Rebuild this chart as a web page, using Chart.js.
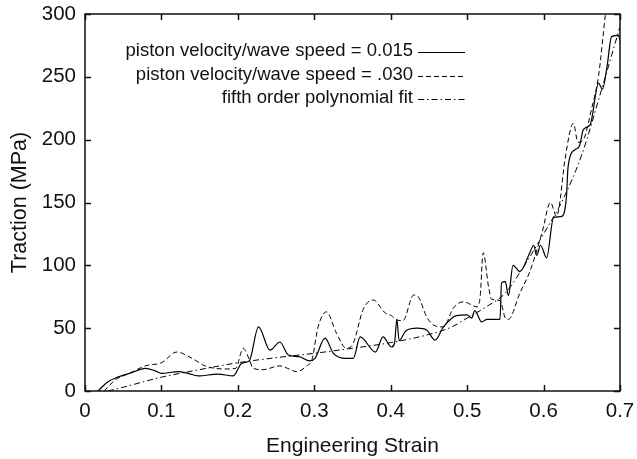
<!DOCTYPE html>
<html>
<head>
<meta charset="utf-8">
<script src="https://cdn.jsdelivr.net/npm/chart.js@4.4.1/dist/chart.umd.min.js"></script>
<style>
  body { margin: 0; background: #fff; }
  #chart { display: block; }
</style>
</head>
<body>
<canvas id="chart" width="637" height="459"></canvas>
<script>
// axis ticks
const xTicks = [0, 0.1, 0.2, 0.3, 0.4, 0.5, 0.6, 0.7];
const yTicks = [0, 50, 100, 150, 200, 250, 300];

// piston velocity/wave speed = 0.015 (solid)
const strainA = [0.017, 0.03, 0.043, 0.061, 0.079, 0.092, 0.1, 0.122, 0.135, 0.148, 0.174, 0.194, 0.205, 0.215, 0.227, 0.242, 0.255, 0.266, 0.28, 0.294, 0.301, 0.314, 0.325, 0.342, 0.351, 0.36, 0.38, 0.39, 0.401, 0.405, 0.408, 0.411, 0.42, 0.435, 0.447, 0.458, 0.469, 0.486, 0.5, 0.506, 0.51, 0.519, 0.526, 0.543, 0.545, 0.55, 0.554, 0.56, 0.569, 0.582, 0.587, 0.591, 0.596, 0.604, 0.613, 0.624, 0.63, 0.632, 0.641, 0.647, 0.652, 0.661, 0.672, 0.677, 0.683, 0.689, 0.698, 0.7];
const tractionA = [0, 7.4, 11, 14.6, 18, 16, 14, 15.4, 14, 12, 13.5, 12, 22, 24, 51, 32.6, 39, 28.6, 27.3, 24, 26, 42, 30, 26, 26, 43, 31, 43, 35, 38, 57, 40, 48, 50, 48.5, 40.5, 51, 60, 60.5, 58, 64, 55, 57, 57, 86, 87, 76, 100, 95, 110, 116, 108, 116, 106, 138, 139, 155, 178, 192, 195, 208, 212, 245, 240, 258, 282, 283, 279];

// piston velocity/wave speed = .030 (dashed)
const strainB = [0.025, 0.04, 0.058, 0.079, 0.1, 0.12, 0.14, 0.157, 0.183, 0.197, 0.207, 0.215, 0.22, 0.233, 0.255, 0.265, 0.277, 0.29, 0.297, 0.305, 0.316, 0.329, 0.342, 0.351, 0.364, 0.377, 0.393, 0.401, 0.408, 0.416, 0.43, 0.436, 0.447, 0.456, 0.469, 0.482, 0.495, 0.513, 0.517, 0.521, 0.528, 0.532, 0.543, 0.55, 0.554, 0.569, 0.582, 0.598, 0.609, 0.617, 0.62, 0.628, 0.639, 0.645, 0.652, 0.663, 0.672, 0.681, 0.69];
const tractionB = [0, 9, 14, 20, 22.5, 31, 26, 20, 17.5, 18, 34, 25, 18, 17, 20, 18, 15.4, 20, 25, 51, 63, 46, 34, 38, 65, 72.4, 62, 60, 56.5, 56, 76.4, 75, 59, 52.5, 51, 66, 71, 67, 75, 110, 83, 73, 72, 58, 57, 78, 95, 126, 150, 139, 145, 184, 213, 198, 200, 225, 251, 300, 340];

// fifth order polynomial fit (dash-dot)
const strainFit = [0.03, 0.05, 0.1, 0.15, 0.2, 0.25, 0.3, 0.35, 0.4, 0.45, 0.48, 0.5, 0.525, 0.55, 0.575, 0.6, 0.625, 0.65, 0.675, 0.7];
const tractionFit = [0, 3, 11, 17, 22.5, 26.5, 30, 34, 38.5, 45, 51, 58, 67, 78, 100, 125, 152, 188, 238, 290];

const labels = [
  'piston velocity/wave speed = 0.015',
  'piston velocity/wave speed = .030',
  'fifth order polynomial fit'
];

const toPoints = (xs, ys) => xs.map((x, i) => ({ x: x, y: ys[i] }));
const fontFamily = "'Liberation Sans', Arial, sans-serif";
const ink = '#111';

// gnuplot-like frame with inward ticks on all sides
const framePlugin = {
  id: 'frame',
  afterDatasetsDraw(chart) {
    const { ctx, chartArea: a, scales } = chart;
    const len = 6;
    ctx.save();
    ctx.strokeStyle = ink;
    ctx.lineWidth = 1.5;
    ctx.beginPath();
    xTicks.forEach(v => {
      const px = Math.round(scales.x.getPixelForValue(v)) + 0.5;
      ctx.moveTo(px, a.bottom); ctx.lineTo(px, a.bottom - len);
      ctx.moveTo(px, a.top); ctx.lineTo(px, a.top + len);
    });
    yTicks.forEach(v => {
      const py = Math.round(scales.y.getPixelForValue(v)) + 0.5;
      ctx.moveTo(a.left, py); ctx.lineTo(a.left + len, py);
      ctx.moveTo(a.right, py); ctx.lineTo(a.right - len, py);
    });
    ctx.stroke();
    ctx.strokeRect(a.left, a.top, a.right - a.left, a.bottom - a.top);
    ctx.restore();
  }
};

// key in the top of the plot, text right-aligned with line sample after it
const keyPlugin = {
  id: 'key',
  afterDraw(chart) {
    const { ctx } = chart;
    const textRight = 413, lineStart = 418, lineEnd = 465;
    const rows = [52, 76, 99];
    ctx.save();
    ctx.font = '18.5px ' + fontFamily;
    ctx.textAlign = 'right';
    ctx.textBaseline = 'middle';
    chart.data.datasets.forEach((ds, i) => {
      ctx.fillStyle = ink;
      ctx.fillText(ds.label, textRight, rows[i] - 1);
      ctx.strokeStyle = ds.borderColor;
      ctx.lineWidth = ds.borderWidth;
      ctx.setLineDash(ds.borderDash || []);
      ctx.beginPath();
      ctx.moveTo(lineStart, rows[i] + 0.5);
      ctx.lineTo(lineEnd, rows[i] + 0.5);
      ctx.stroke();
    });
    ctx.restore();
  }
};

new Chart(document.getElementById('chart'), {
  type: 'line',
  data: {
    datasets: [
      {
        label: labels[0],
        data: toPoints(strainA, tractionA),
        borderColor: '#000',
        borderWidth: 1.2,
        pointRadius: 0,
        cubicInterpolationMode: 'monotone',
        fill: false
      },
      {
        label: labels[1],
        data: toPoints(strainB, tractionB),
        borderColor: '#000',
        borderWidth: 1,
        borderDash: [5, 3],
        pointRadius: 0,
        cubicInterpolationMode: 'monotone',
        fill: false
      },
      {
        label: labels[2],
        data: toPoints(strainFit, tractionFit),
        borderColor: '#000',
        borderWidth: 1,
        borderDash: [6, 3, 1.5, 3],
        pointRadius: 0,
        cubicInterpolationMode: 'monotone',
        fill: false
      }
    ]
  },
  options: {
    responsive: false,
    animation: false,
    devicePixelRatio: 1,
    layout: { padding: { top: 14, right: 17, left: 0, bottom: 0 } },
    plugins: {
      legend: { display: false },
      tooltip: { enabled: false }
    },
    scales: {
      x: {
        type: 'linear',
        min: 0,
        max: 0.7,
        afterFit(scale) {
          scale.height = 68;
          scale.paddingLeft = 0;
          scale.paddingRight = 0;
        },
        afterBuildTicks(scale) { scale.ticks = xTicks.map(v => ({ value: v })); },
        grid: { display: false, drawTicks: false },
        border: { display: false },
        ticks: {
          padding: 8,
          color: ink,
          font: { family: fontFamily, size: 20.5 },
          maxRotation: 0,
          callback: v => String(Number(v.toFixed(1)))
        },
        title: {
          display: true,
          text: 'Engineering Strain',
          color: ink,
          font: { family: fontFamily, size: 21 },
          padding: { top: 0, bottom: 0 }
        }
      },
      y: {
        type: 'linear',
        min: 0,
        max: 300,
        afterFit(scale) {
          scale.width = 85;
          scale.paddingTop = 0;
          scale.paddingBottom = 0;
        },
        afterBuildTicks(scale) { scale.ticks = yTicks.map(v => ({ value: v })); },
        grid: { display: false, drawTicks: false },
        border: { display: false },
        ticks: {
          padding: 9,
          color: ink,
          font: { family: fontFamily, size: 20.5 }
        },
        title: {
          display: true,
          text: 'Traction (MPa)',
          color: ink,
          font: { family: fontFamily, size: 21.5 },
          padding: { top: 7, bottom: 0 }
        }
      }
    }
  },
  plugins: [framePlugin, keyPlugin]
});
</script>
</body>
</html>
